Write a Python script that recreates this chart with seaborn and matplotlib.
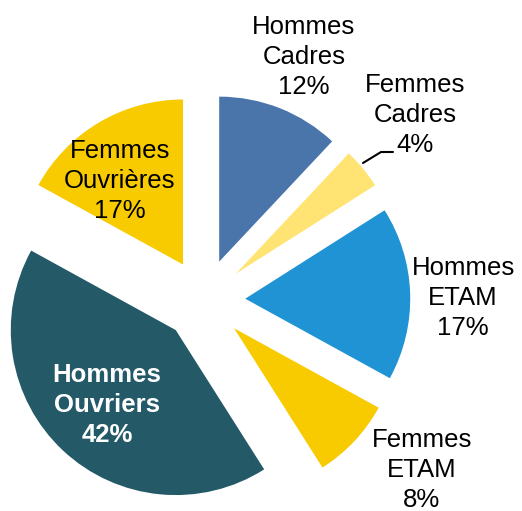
import numpy as np
import matplotlib
matplotlib.use("Agg")
import matplotlib.pyplot as plt
import seaborn as sns

# data
categories = ["Hommes\nCadres", "Femmes\nCadres", "Hommes\nETAM", "Femmes\nETAM", "Hommes\nOuvriers", "Femmes\nOuvrières"]
values = [12, 4, 17, 8, 42, 17]
colors = ["#4A75AB", "#FFE473", "#1F93D3", "#F8CB00", "#245A68", "#F8CB00"]

# label placement (pixel centers in the 522x511 image) and style
label_px = [(304, 57), (415, 115), (463, 298), (422, 470), (107, 405), (120, 181)]
label_color = ["black", "black", "black", "black", "white", "black"]
label_weight = ["normal", "normal", "normal", "normal", "bold", "normal"]

sns.set_theme(style="white")
plt.rcParams["font.family"] = ["Liberation Sans", "DejaVu Sans"]

W, H = 522, 511
cx, cy, R = 204, 300, 165  # pie center and radius in pixels

fig = plt.figure(figsize=(W / 100, H / 100), dpi=100)
ax = fig.add_axes([0, 0, 1, 1])

ax.pie(values, colors=colors, startangle=90, counterclock=False,
       explode=[0.25] * len(values), radius=1,
       wedgeprops=dict(linewidth=0))

ax.set_xlim(-cx / R, (W - cx) / R)
ax.set_ylim(-(H - cy) / R, cy / R)
ax.set_aspect("equal")
ax.axis("off")

def px2d(px, py):
    return (px - cx) / R, (cy - py) / R

for cat, v, (px, py), c, w in zip(categories, values, label_px, label_color, label_weight):
    x, y = px2d(px, py)
    ax.text(x, y, f"{cat}\n{v}%", ha="center", va="center", fontsize=18.5,
            color=c, fontweight=w, linespacing=1.32)

# leader line for Femmes Cadres
pts = [px2d(363, 163), px2d(381, 152), px2d(393, 152)]
ax.plot([p[0] for p in pts], [p[1] for p in pts], color="black", lw=1.5)

fig.savefig("out.png", dpi=100)
